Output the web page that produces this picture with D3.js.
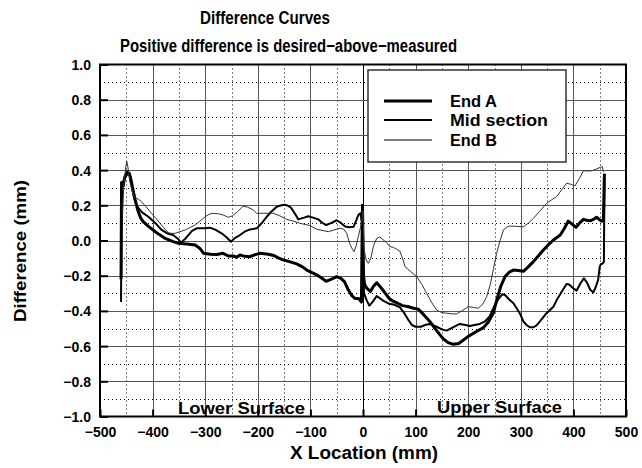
<!DOCTYPE html>
<html>
<head>
<meta charset="utf-8">
<script src="https://cdn.jsdelivr.net/npm/d3@7"></script>
<style>
  html, body { margin: 0; padding: 0; background: #fff; }
  svg { display: block; }
  text { font-family: "Liberation Sans Narrow", "Liberation Sans", sans-serif; font-weight: bold; fill: #000; }
</style>
</head>
<body>
<svg id="chart" width="642" height="468"></svg>
<script>
// Difference between desired and measured profile, in mm, along the X location (mm)
const endA = [
  [-460, -0.22], [-459, 0.33], [-456, 0.31], [-453, 0.36], [-448, 0.39], [-444, 0.38],
  [-440, 0.33], [-436, 0.27], [-433, 0.23], [-428, 0.17], [-423, 0.13], [-418, 0.107],
  [-408, 0.08], [-399, 0.06], [-388, 0.035], [-376, 0.012], [-362, -0.005], [-351, -0.016],
  [-335, -0.02], [-319, -0.026], [-310, -0.045], [-303, -0.073], [-290, -0.078], [-278, -0.079],
  [-266, -0.073], [-256, -0.088], [-247, -0.088], [-240, -0.095], [-234, -0.082], [-225, -0.09],
  [-215, -0.092], [-205, -0.08], [-196, -0.073], [-180, -0.078], [-170, -0.085], [-160, -0.1],
  [-152, -0.11], [-140, -0.12], [-126, -0.133], [-115, -0.15], [-107, -0.168], [-95, -0.185],
  [-88, -0.195], [-78, -0.215], [-70, -0.232], [-60, -0.22], [-50, -0.205], [-42, -0.215],
  [-35, -0.235], [-28, -0.28], [-22, -0.31], [-15, -0.33], [-8, -0.33], [-3, -0.35],
  [-1, 0.2], [1, -0.2], [3, -0.25], [7, -0.27], [14, -0.29], [20, -0.26], [26, -0.24],
  [32, -0.26], [40, -0.29], [50, -0.33], [57, -0.345], [65, -0.355], [75, -0.37], [85, -0.375],
  [96, -0.385], [105, -0.39], [115, -0.42], [127, -0.46], [137, -0.5], [146, -0.535],
  [153, -0.56], [162, -0.58], [172, -0.59], [182, -0.585], [191, -0.565], [200, -0.545],
  [210, -0.527], [220, -0.51], [229, -0.495], [238, -0.465], [248, -0.41], [255, -0.33],
  [262, -0.26], [270, -0.205], [278, -0.18], [286, -0.168], [295, -0.17], [305, -0.175],
  [314, -0.15], [324, -0.12], [334, -0.085], [343, -0.054], [352, -0.025], [362, 0.003],
  [375, 0.031], [383, 0.07], [390, 0.11], [397, 0.095], [405, 0.075], [412, 0.1], [419, 0.12],
  [425, 0.115], [432, 0.112], [438, 0.12], [444, 0.132], [449, 0.12], [454, 0.11],
  [457, 0.115], [459, 0.38]
];

const midSection = [
  [-460, -0.35], [-459, 0.3], [-456, 0.33], [-452, 0.36], [-447, 0.38], [-443, 0.37],
  [-439, 0.3], [-435, 0.24], [-430, 0.195], [-420, 0.16], [-408, 0.135], [-395, 0.1],
  [-383, 0.06], [-372, 0.04], [-361, 0.031], [-352, 0.01], [-346, -0.012], [-338, 0.01],
  [-332, 0.031], [-325, 0.055], [-316, 0.069], [-300, 0.07], [-291, 0.073], [-280, 0.06],
  [-269, 0.041], [-260, 0.02], [-251, -0.007], [-243, 0.015], [-234, 0.031], [-225, 0.05],
  [-215, 0.063], [-202, 0.069], [-192, 0.1], [-183, 0.135], [-174, 0.165], [-164, 0.192],
  [-155, 0.2], [-148, 0.203], [-141, 0.195], [-136, 0.183], [-129, 0.15], [-123, 0.12],
  [-112, 0.13], [-104, 0.138], [-95, 0.13], [-85, 0.12], [-77, 0.1], [-70, 0.088],
  [-60, 0.1], [-50, 0.115], [-42, 0.1], [-34, 0.08], [-26, 0.075], [-18, 0.078],
  [-12, 0.12], [-9, 0.145], [-5, 0.154], [-2, 0.1], [0, -0.1], [2, -0.3], [7, -0.34],
  [12, -0.37], [18, -0.35], [26, -0.315], [33, -0.33], [40, -0.345], [50, -0.36],
  [60, -0.365], [70, -0.38], [78, -0.41], [86, -0.45], [93, -0.48], [100, -0.49],
  [110, -0.49], [118, -0.48], [127, -0.474], [140, -0.49], [150, -0.505], [159, -0.512],
  [170, -0.495], [184, -0.474], [195, -0.48], [203, -0.486], [212, -0.48], [222, -0.474],
  [232, -0.46], [241, -0.43], [250, -0.37], [258, -0.33], [265, -0.305], [270, -0.31],
  [278, -0.335], [286, -0.357], [298, -0.413], [305, -0.46], [311, -0.48], [317, -0.493],
  [324, -0.493], [330, -0.482], [336, -0.461], [349, -0.413], [362, -0.376], [368, -0.34],
  [380, -0.28], [387, -0.247], [392, -0.25], [399, -0.27], [406, -0.285], [414, -0.24],
  [420, -0.215], [426, -0.24], [432, -0.28], [438, -0.295], [443, -0.26], [447, -0.224],
  [450, -0.15], [452, -0.135], [456, -0.13], [458, -0.12], [459, 0.33]
];

const endB = [
  [-457, 0.15], [-455, 0.3], [-451, 0.42], [-449, 0.45], [-446, 0.4], [-443, 0.33],
  [-438, 0.27], [-433, 0.24], [-427, 0.235], [-421, 0.22], [-412, 0.19], [-402, 0.154],
  [-392, 0.12], [-383, 0.088], [-375, 0.06], [-370, 0.044], [-363, 0.04], [-357, 0.041],
  [-348, 0.05], [-338, 0.06], [-328, 0.075], [-319, 0.088], [-310, 0.11], [-300, 0.135],
  [-292, 0.15], [-285, 0.154], [-275, 0.152], [-266, 0.145], [-256, 0.132], [-248, 0.14],
  [-238, 0.165], [-228, 0.195], [-220, 0.19], [-209, 0.175], [-202, 0.154], [-190, 0.155],
  [-171, 0.155], [-158, 0.14], [-145, 0.12], [-132, 0.11], [-120, 0.098], [-101, 0.085],
  [-88, 0.064], [-78, 0.058], [-66, 0.05], [-55, 0.06], [-44, 0.07], [-37, 0.065],
  [-31, 0.041], [-25, -0.02], [-20, -0.05], [-17, -0.064], [-13, -0.03], [-9, 0.022],
  [-5, 0.07], [-2, 0.12], [0, 0.17], [2, -0.05], [6, -0.11], [10, -0.13], [15, -0.1],
  [20, -0.03], [26, 0.012], [32, 0.02], [38, 0.005], [45, -0.012], [51, -0.035],
  [58, -0.039], [64, -0.05], [70, -0.06], [75, -0.1], [80, -0.149], [90, -0.175],
  [102, -0.205], [112, -0.25], [121, -0.3], [130, -0.35], [140, -0.395], [150, -0.41],
  [159, -0.413], [170, -0.417], [178, -0.417], [188, -0.4], [200, -0.376], [210, -0.38],
  [219, -0.385], [228, -0.36], [235, -0.32], [242, -0.25], [248, -0.16], [254, -0.073],
  [260, -0.007], [267, 0.06], [273, 0.075], [279, 0.082], [292, 0.08], [305, 0.078],
  [315, 0.1], [324, 0.126], [337, 0.17], [349, 0.211], [358, 0.23], [368, 0.249],
  [378, 0.29], [387, 0.325], [395, 0.32], [403, 0.31], [411, 0.35], [419, 0.396],
  [427, 0.395], [435, 0.396], [443, 0.405], [451, 0.416], [455, 0.42], [457, 0.39]
];

const seriesNames = ["End A", "Mid section", "End B"];
const seriesWidths = [3, 2, 1];
const xTicks = [-500, -400, -300, -200, -100, 0, 100, 200, 300, 400, 500];
const yTicks = [-1.0, -0.8, -0.6, -0.4, -0.2, 0.0, 0.2, 0.4, 0.6, 0.8, 1.0];
const xMinor = [-450, -350, -250, -150, -50, 50, 150, 250, 350, 450];
const yMinor = [-0.9, -0.7, -0.5, -0.3, -0.1, 0.1, 0.3, 0.5, 0.7, 0.9];

const svg = d3.select("#chart");
const x = d3.scaleLinear().domain([-500, 500]).range([100, 626]);
const y = d3.scaleLinear().domain([-1, 1]).range([416.5, 64.5]);

const fmtY = d => (d < 0 ? "\u2212" : "") + Math.abs(d).toFixed(1);
const fmtX = d => (d < 0 ? "\u2212" : "") + Math.abs(d);

// minor grid (dotted)
const grid = svg.append("g");
grid.selectAll(".vminor").data(xMinor).join("line")
  .attr("x1", d => Math.round(x(d)) + 0.5).attr("x2", d => Math.round(x(d)) + 0.5)
  .attr("y1", y(1)).attr("y2", y(-1))
  .attr("stroke", "#000").attr("stroke-width", 1).attr("stroke-dasharray", "1,3");
grid.selectAll(".hminor").data(yMinor).join("line")
  .attr("y1", d => Math.round(y(d)) + 0.5).attr("y2", d => Math.round(y(d)) + 0.5)
  .attr("x1", x(-500)).attr("x2", x(500))
  .attr("stroke", "#000").attr("stroke-width", 1).attr("stroke-dasharray", "1,3");

// major grid (solid)
grid.selectAll(".vmajor").data(xTicks.slice(1, -1)).join("line")
  .attr("x1", d => Math.round(x(d)) + 0.5).attr("x2", d => Math.round(x(d)) + 0.5)
  .attr("y1", y(1)).attr("y2", y(-1))
  .attr("stroke", d => d === 0 ? "#000" : "#555").attr("stroke-width", 1);
grid.selectAll(".hmajor").data(yTicks.slice(1, -1)).join("line")
  .attr("y1", d => Math.round(y(d)) + 0.5).attr("y2", d => Math.round(y(d)) + 0.5)
  .attr("x1", x(-500)).attr("x2", x(500))
  .attr("stroke", "#555").attr("stroke-width", 1);

// axes with inward ticks
const axB = svg.append("g").attr("transform", `translate(0,${y(-1)})`)
  .call(d3.axisBottom(x).tickValues(xTicks).tickFormat(fmtX).tickSizeInner(-7).tickSizeOuter(0).tickPadding(11));
const axL = svg.append("g").attr("transform", `translate(${x(-500)},0)`)
  .call(d3.axisLeft(y).tickValues(yTicks).tickFormat(fmtY).tickSizeInner(-8).tickSizeOuter(0).tickPadding(9));
[axB, axL].forEach(g => {
  g.select(".domain").remove();
  g.selectAll(".tick line").attr("stroke", "#000").attr("stroke-width", 2);
  g.selectAll(".tick text").attr("font-family", "DejaVu Sans, sans-serif")
    .attr("font-weight", "bold").attr("font-size", 14).attr("fill", "#000");
});
axB.selectAll(".tick text").attr("dy", "0.71em");
axL.selectAll(".tick text").attr("dy", "0.36em");

// plot frame
svg.append("rect")
  .attr("x", x(-500)).attr("y", y(1))
  .attr("width", x(500) - x(-500)).attr("height", y(-1) - y(1))
  .attr("fill", "none").attr("stroke", "#000").attr("stroke-width", 2);

// curves
const line = d3.line().x(d => x(d[0])).y(d => y(d[1]));
const series = [endA, midSection, endB];
const curves = svg.append("g");
series.forEach((s, i) => {
  curves.append("path").datum(s).attr("d", line)
    .attr("fill", "none").attr("stroke", i === 2 ? "#333" : "#000")
    .attr("stroke-width", seriesWidths[i])
    .attr("stroke-linejoin", "round").attr("stroke-linecap", "butt");
});

// surface labels
svg.append("text").attr("x", 178).attr("y", 414).attr("font-size", 17)
  .attr("textLength", 127).attr("lengthAdjust", "spacingAndGlyphs").text("Lower Surface");
svg.append("text").attr("x", 437).attr("y", 413).attr("font-size", 17)
  .attr("textLength", 125).attr("lengthAdjust", "spacingAndGlyphs").text("Upper Surface");

// legend
const lg = svg.append("g");
lg.append("rect").attr("x", 368).attr("y", 70).attr("width", 198).attr("height", 92)
  .attr("fill", "#fff").attr("stroke", "#333").attr("stroke-width", 1.5);
const legendY = [101, 120, 140];
const legendLen = [47, 98, 47];
seriesNames.forEach((n, i) => {
  lg.append("line").attr("x1", 384).attr("x2", 432)
    .attr("y1", legendY[i]).attr("y2", legendY[i])
    .attr("stroke", "#000").attr("stroke-width", seriesWidths[i]);
  lg.append("text").attr("x", 450).attr("y", legendY[i] + 6).attr("font-size", 17)
    .attr("textLength", legendLen[i]).attr("lengthAdjust", "spacingAndGlyphs").text(n);
});

// titles
svg.append("text").attr("x", 200).attr("y", 24).attr("font-size", 18)
  .attr("textLength", 130).attr("lengthAdjust", "spacingAndGlyphs").text("Difference Curves");
svg.append("text").attr("x", 120).attr("y", 52).attr("font-size", 18)
  .attr("textLength", 337).attr("lengthAdjust", "spacingAndGlyphs")
  .text("Positive difference is desired\u2212above\u2212measured");

// axis titles
svg.append("text").attr("x", 290).attr("y", 459).attr("font-size", 18)
  .attr("textLength", 148).attr("lengthAdjust", "spacingAndGlyphs").text("X Location (mm)");
svg.append("text").attr("transform", "translate(26,322) rotate(-90)").attr("font-size", 17)
  .attr("textLength", 142).attr("lengthAdjust", "spacingAndGlyphs").text("Difference (mm)");
</script>
</body>
</html>
